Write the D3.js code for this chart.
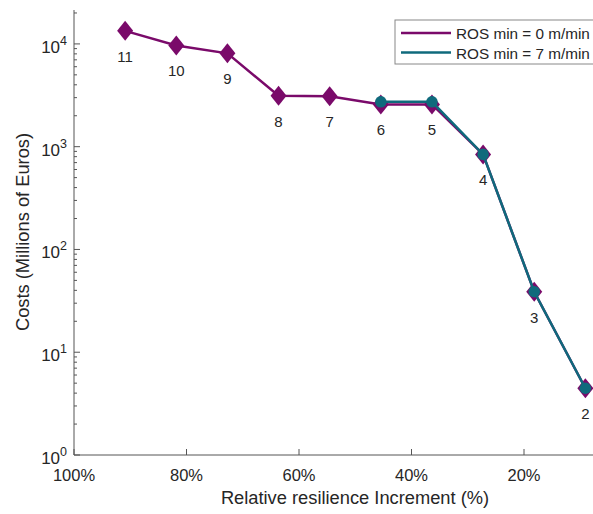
<!DOCTYPE html>
<html><head><meta charset="utf-8">
<script src="https://cdn.jsdelivr.net/npm/d3@7"></script>
<style>body{margin:0;background:#fff}svg{display:block;font-family:"Liberation Sans",Arial,sans-serif}</style>
</head><body>
<svg id="c" width="593" height="514"></svg>
<script>
const labels = [11,10,9,8,7,6,5,4,3,2];
const xPct = labels.map(n => (n-1)/11*100);
const ros0 = [13400, 9670, 8090, 3125, 3100, 2575, 2575, 841, 38.8, 4.46];
const ros7Labels = [6,5,4,3,2];
const ros7 = [2735, 2735, 841, 38.8, 4.46];
const xTicks = [100,80,60,40,20];
const yTicks = [1,10,100,1000,10000];
const legendNames = ["ROS min = 0 m/min","ROS min = 7 m/min"];
const colors = ["#7a0a6a","#0f6a7c"];

const svg = d3.select("#c");
const x = d3.scaleLinear().domain([100,0]).range([74,636.5]);
const yMax = Math.pow(10,4.33);
const y = d3.scaleLog().domain([1, yMax]).range([455,10]);
const axisCol = "#555";
const txtCol = "#262626";

// axes lines
svg.append("line").attr("x1",74).attr("x2",74).attr("y1",10).attr("y2",455).attr("stroke",axisCol);
svg.append("line").attr("x1",74).attr("x2",640).attr("y1",455).attr("y2",455).attr("stroke",axisCol);

// x ticks
xTicks.forEach(t=>{
  svg.append("line").attr("x1",x(t)).attr("x2",x(t)).attr("y1",455).attr("y2",449).attr("stroke",axisCol);
  svg.append("text").attr("x",x(t)).attr("y",481).attr("text-anchor","middle").attr("font-size",16.5).attr("fill",txtCol).text(t+"%");
});
// y ticks
yTicks.forEach((t,i)=>{
  svg.append("line").attr("x1",74).attr("x2",80).attr("y1",y(t)).attr("y2",y(t)).attr("stroke",axisCol);
  const tx = svg.append("text").attr("x",67).attr("y",y(t)+9).attr("text-anchor","end").attr("font-size",17).attr("fill",txtCol);
  tx.append("tspan").text("10");
  tx.append("tspan").attr("dy",-8).attr("font-size",12.5).text(String(i));
  for(let m=2;m<=9;m++){
    const v=t*m; if(v>yMax) break;
    svg.append("line").attr("x1",74).attr("x2",77).attr("y1",y(v)).attr("y2",y(v)).attr("stroke",axisCol);
  }
});

// axis titles
svg.append("text").attr("x",355).attr("y",504).attr("text-anchor","middle").attr("font-size",18.3).attr("fill",txtCol).text("Relative resilience Increment (%)");
svg.append("text").attr("transform","translate(29,232) rotate(-90)").attr("text-anchor","middle").attr("font-size",18.3).attr("fill",txtCol).text("Costs (Millions of Euros)");

// series 0
const line = d3.line().x(d=>x(d[0])).y(d=>y(d[1]));
const d0 = xPct.map((p,i)=>[p,ros0[i]]);
svg.append("path").attr("d",line(d0)).attr("fill","none").attr("stroke",colors[0]).attr("stroke-width",2.5);
const diamond = "M0,-10L8,0L0,10L-8,0Z";
svg.selectAll(".m0").data(d0).enter().append("path")
  .attr("transform",d=>`translate(${x(d[0])},${y(d[1])})`)
  .attr("d",diamond).attr("fill",colors[0]);

// series 7
const d7 = ros7Labels.map((n,i)=>[(n-1)/11*100, ros7[i]]);
svg.append("path").attr("d",line(d7)).attr("fill","none").attr("stroke",colors[1]).attr("stroke-width",2.5);
svg.selectAll(".m7").data(d7).enter().append("circle")
  .attr("cx",d=>x(d[0])).attr("cy",d=>y(d[1])).attr("r",5.8).attr("fill",colors[1]);

// point labels
svg.selectAll(".lb").data(d0).enter().append("text")
  .attr("x",d=>x(d[0])).attr("y",d=>y(d[1])+31).attr("text-anchor","middle").attr("font-size",15).attr("fill",txtCol)
  .text((d,i)=>labels[i]);

// legend
svg.append("rect").attr("x",395).attr("y",20).attr("width",210).attr("height",44).attr("fill","#fff").attr("stroke","#888");
legendNames.forEach((n,i)=>{
  const yy = 33 + i*19.5;
  svg.append("line").attr("x1",401).attr("x2",451).attr("y1",yy).attr("y2",yy).attr("stroke",colors[i]).attr("stroke-width",2.5);
  svg.append("text").attr("x",456).attr("y",yy+6).attr("font-size",15.3).attr("fill",txtCol).text(n);
});
</script>
</body></html>
